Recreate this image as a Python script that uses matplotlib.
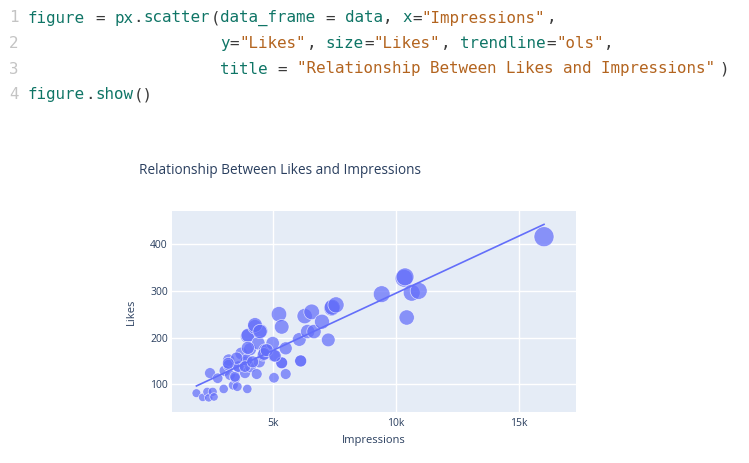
import re
import numpy as np
import matplotlib
matplotlib.use("Agg")
import matplotlib.pyplot as plt

# data
impressions = [1900, 2155, 2342, 2399, 2561, 2614, 2452, 2765, 3009, 3049,
               3212, 3212, 3265, 3399, 3480, 3561, 3618, 3724, 3874, 3915,
               3968, 3968, 4000, 4078, 4100, 4281, 4512, 4415, 4350, 4456,
               4618, 4687, 5000, 5053, 5053, 5256, 5366, 5366, 5366, 5529,
               5529, 6082, 6138, 6138, 6301, 6423, 6585, 6679, 7004, 7260,
               7399, 7420, 7574, 9431, 10338, 10380, 10650, 10935, 10447, 16029,
               3467, 3602, 3943, 4281, 4484, 4647, 3874, 4187, 3537, 3196,
               4757, 5094, 3990]
likes = [81, 72, 84, 71, 84, 73, 124, 113, 90, 129,
         152, 141, 120, 98, 113, 95, 136, 166, 124, 148,
         90, 203, 205, 175, 137, 223, 214, 188, 122, 148,
         163, 173, 188, 161, 114, 250, 223, 146, 146, 177,
         122, 196, 150, 150, 246, 213, 255, 213, 234, 195,
         263, 265, 270, 293, 327, 330, 296, 300, 243, 416,
         116, 138, 152, 227, 213, 165, 138, 148, 156, 145,
         173, 161, 178]

x_ticks = [5000, 10000, 15000]
x_labels = ["5k", "10k", "15k"]
y_ticks = [100, 200, 300, 400]

code_lines = [
    'figure = px.scatter(data_frame = data, x="Impressions",',
    '                    y="Likes", size="Likes", trendline="ols",',
    '                    title = "Relationship Between Likes and Impressions")',
    'figure.show()',
]

W, H = 749, 463
fig = plt.figure(figsize=(W / 100, H / 100), dpi=100)

# code cell text
TEAL = "#0f7566"
BROWN = "#b3641f"
DARK = "#3a3a3a"
char_w = 9.6
for i, line in enumerate(code_lines):
    yy = 1 - (18 + i * 25.5) / H
    fig.text(13.5 / W, yy, str(i + 1), color="#c4c4c4", ha="center", va="center",
             family="DejaVu Sans Mono", fontsize=11.4)
    for m in re.finditer(r'"[^"]*"|[A-Za-z_]+|[^\sA-Za-z_"]+', line):
        tok = m.group()
        if tok.startswith('"'):
            col = BROWN
        elif re.match(r'[A-Za-z_]', tok):
            col = TEAL
        else:
            col = DARK
        fig.text((28 + m.start() * char_w) / W, yy, tok, color=col, ha="left",
                 va="center", family="DejaVu Sans Mono", fontsize=11.45)

# chart
ax = fig.add_axes([172 / W, (H - 412) / H, (576 - 172) / W, (412 - 211) / H])
ax.set_facecolor("#E5ECF6")
for s in ax.spines.values():
    s.set_visible(False)
ax.grid(True, color="white", linewidth=1.0)
ax.set_axisbelow(True)

x = np.array(impressions, dtype=float)
y = np.array(likes, dtype=float)
diam = 20 * np.sqrt(y / y.max())          # px, plotly size_max=20
sizes = (diam * 0.72) ** 2
ax.scatter(x, y, s=sizes, color="#636efa", alpha=0.72, edgecolors="white",
           linewidths=0.5, zorder=2)

# ols trendline
slope, icpt = np.polyfit(x, y, 1)
xs = np.array([x.min(), x.max()])
ax.plot(xs, slope * xs + icpt, color="#636efa", linewidth=1.2, zorder=3)

ax.set_xlim(907, 17330)
ax.set_ylim(40.7, 471)
ax.set_xticks(x_ticks)
ax.set_xticklabels(x_labels)
ax.set_yticks(y_ticks)
ax.tick_params(length=0, labelsize=7.5, labelcolor="#2a3f5f", pad=4)
ax.tick_params(axis="y", pad=3)
for lab in ax.get_xticklabels() + ax.get_yticklabels():
    lab.set_family("Open Sans")

fig.text(131 / W, 1 - 312 / H, "Likes", rotation=90, ha="center", va="center",
         color="#2a3f5f", family="Open Sans", fontsize=8.0)
fig.text(374 / W, 1 - 441 / H, "Impressions", ha="center", va="center",
         color="#2a3f5f", family="Open Sans", fontsize=8.0)
fig.text(139 / W, 1 - 170 / H, "Relationship Between Likes and Impressions",
         ha="left", va="center", color="#2a3f5f", family="Open Sans", fontsize=9.8)

fig.savefig("out.png", dpi=100, facecolor="white")
